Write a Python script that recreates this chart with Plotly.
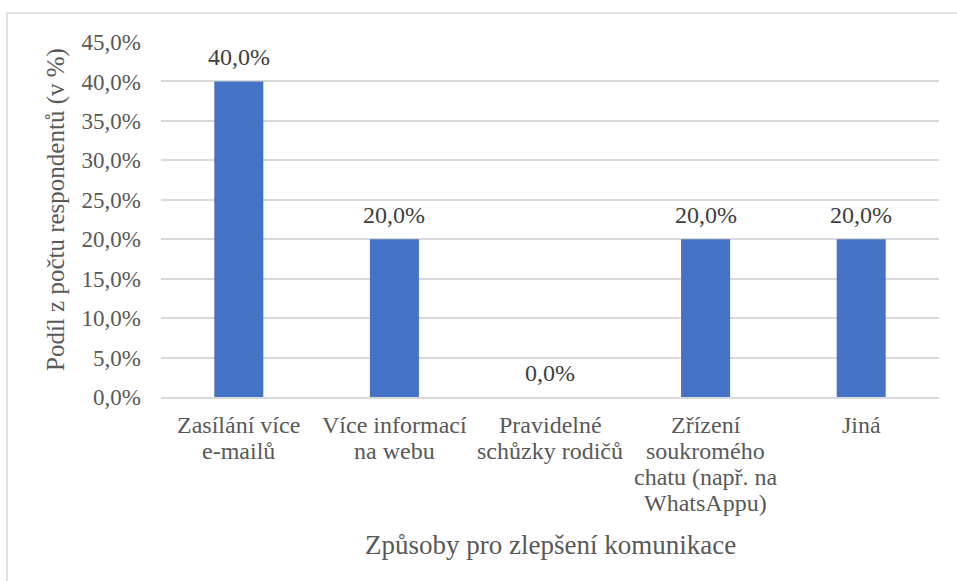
import plotly.graph_objects as go

# Survey results: preferred ways to improve school-parent communication
categories = [
    "Zasílání více<br>e-mailů",
    "Více informací<br>na webu",
    "Pravidelné<br>schůzky rodičů",
    "Zřízení<br>soukromého<br>chatu (např. na<br>WhatsAppu)",
    "Jiná",
]
shares = [40.0, 20.0, 0.0, 20.0, 20.0]
y_ticks = [0, 5, 10, 15, 20, 25, 30, 35, 40, 45]
y_tick_labels = [f"{v:.1f}".replace(".", ",") + "%" for v in y_ticks]
bar_labels = [f"{v:.1f}".replace(".", ",") + "%" for v in shares]
x_title = "Způsoby pro zlepšení komunikace"
y_title = "Podíl z počtu respondentů (v %)"

W, H = 957, 581
ML, MR, MT, MB = 161, 18, 42, 184
FONT = "Liberation Serif, Times New Roman, serif"
GREY = "#595959"

pw, ph = W - ML - MR, H - MT - MB
def px(x):
    """pixel column -> paper x"""
    return (x - ML) / pw
def py(y):
    """pixel row -> paper y"""
    return (H - MB - y) / ph

fig = go.Figure(
    go.Bar(
        x=categories,
        y=shares,
        marker=dict(color="#4472C4", line=dict(width=0)),
        width=0.315,
    )
)

# value labels above each bar
for cat, val, lab in zip(categories, shares, bar_labels):
    fig.add_annotation(
        x=cat, y=val, text=lab, showarrow=False,
        yanchor="bottom", yshift=9,
        font=dict(family=FONT, size=24, color="#404040"),
    )

# category labels under the axis, with tighter line spacing
for cat in categories:
    for i, line in enumerate(cat.split("<br>")):
        fig.add_annotation(
            x=cat, y=0, text=line, showarrow=False,
            yanchor="middle", yshift=-(28 + 26 * i),
            font=dict(family=FONT, size=24, color=GREY),
        )

# axis titles
fig.add_annotation(
    xref="paper", yref="paper", x=0.5, y=py(545), text=x_title,
    showarrow=False, xanchor="center", yanchor="middle",
    font=dict(family=FONT, size=27, color=GREY),
)
fig.add_annotation(
    xref="paper", yref="paper", x=px(56), y=py(210), text=y_title,
    showarrow=False, xanchor="center", yanchor="middle", textangle=-90,
    font=dict(family=FONT, size=25, color=GREY),
)

# outer chart frame (left and top edges visible, extends past right/bottom)
fig.add_shape(type="line", xref="paper", yref="paper",
              x0=px(7), x1=px(960), y0=py(13), y1=py(13),
              line=dict(color="#D9D9D9", width=1.5))
fig.add_shape(type="line", xref="paper", yref="paper",
              x0=px(7), x1=px(7), y0=py(13), y1=py(590),
              line=dict(color="#D9D9D9", width=1.5))

fig.update_layout(
    width=W,
    height=H,
    margin=dict(l=ML, r=MR, t=MT, b=MB, pad=0),
    plot_bgcolor="white",
    paper_bgcolor="white",
    showlegend=False,
    font=dict(family=FONT, color=GREY),
)
fig.update_xaxes(
    showgrid=False,
    showline=True,
    linecolor="#D9D9D9",
    linewidth=1.5,
    ticks="",
    showticklabels=False,
)
fig.update_yaxes(
    range=[0, 45],
    tickvals=y_ticks,
    ticktext=y_tick_labels,
    showgrid=True,
    gridcolor="#D9D9D9",
    gridwidth=1.5,
    zeroline=False,
    showline=False,
    ticks="",
    tickfont=dict(family=FONT, size=23, color=GREY),
    ticklabelstandoff=19,
)

fig.write_html("out.html")
